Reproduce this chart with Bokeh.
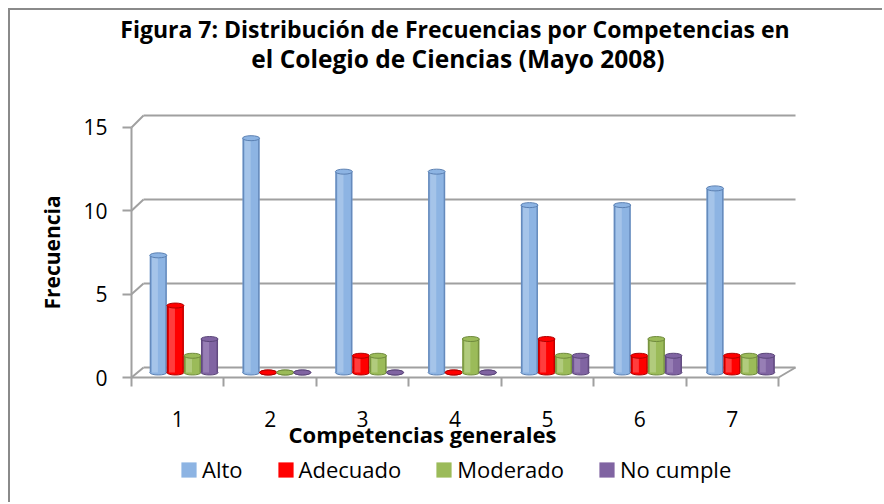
from bokeh.plotting import figure
from bokeh.models import Range1d, FixedTicker, Legend, LegendItem, Label, ColumnDataSource
from bokeh.embed import file_html
from bokeh.resources import INLINE

# ---------------- data ----------------
categories = ["1", "2", "3", "4", "5", "6", "7"]
series_names = ["Alto", "Adecuado", "Moderado", "No cumple"]
alto = [7, 14, 12, 12, 10, 10, 11]
adecuado = [4, 0, 1, 0, 2, 1, 1]
moderado = [1, 0, 1, 2, 1, 2, 1]
no_cumple = [2, 0, 0, 0, 1, 1, 1]
y_ticks = [0, 5, 10, 15]
title_line1 = "Figura 7: Distribución de Frecuencias por Competencias en"
title_line2 = "el Colegio de Ciencias (Mayo 2008)"
x_title = "Competencias generales"
y_title = "Frecuencia"

# ---------------- style ----------------
series_values = [alto, adecuado, moderado, no_cumple]
fill_colors = ["#8db4e3", "#ff0000", "#9bbb59", "#8064a2"]
dark_colors = ["#5b80b2", "#b00000", "#6f8a3c", "#5a4578"]
light_colors = ["#b9d1ef", "#ff7070", "#c3d99a", "#a994c4"]
GRID = "#a0a0a0"
FONT = "Open Sans"

W, H = 872, 492            # canvas size (page offset 10,10 after margin+border)
PX_X, PX_Y = 92.43, 16.67  # pixels per category / per unit of frequency
AX_LEFT, AX_BOTTOM = 121, 367  # canvas position of the front axes corner
TXT_DY = 10                # text labels baseline correction

n = len(categories)
x_lo, x_hi = 0.5, n + 0.5
bw = 0.184  # bar width in category units


def sx_to_x(sx):
    return x_lo + (sx - AX_LEFT) / PX_X


def sy_to_y(sy):
    return (AX_BOTTOM - sy) / PX_Y


def back_x(x):
    return x + 0.13 + (x - x_lo) / n * 0.054


def back_y(v):
    return v * 1.008 + 0.6


def mid_x(x):
    return x + (back_x(x) - x) / 2


def mid_y(v):
    return v * 1.004 + 0.3


p = figure(frame_width=W, frame_height=H, output_backend="svg", toolbar_location=None,
           x_range=Range1d(sx_to_x(0), sx_to_x(W)), y_range=Range1d(sy_to_y(H), sy_to_y(0)),
           min_border=0, title=None)
p.styles = {"border-left": "2px solid #8a8a8a", "border-top": "2px solid #8a8a8a",
            "margin-left": "8px", "margin-top": "8px"}
p.background_fill_color = "white"
p.border_fill_color = "white"
p.outline_line_color = None
p.xgrid.visible = False
p.ygrid.visible = False

# back wall, left wall and floor edges
gy = [back_y(v) for v in y_ticks]
p.segment(x0=[back_x(x_lo)] * len(y_ticks), y0=gy, x1=[back_x(x_hi)] * len(y_ticks), y1=gy,
          line_color=GRID, line_width=2)
p.segment(x0=[x_lo] * len(y_ticks), y0=y_ticks, x1=[back_x(x_lo)] * len(y_ticks), y1=gy,
          line_color=GRID, line_width=2)
p.segment(x0=[x_hi], y0=[0], x1=[back_x(x_hi)], y1=[back_y(0)], line_color=GRID, line_width=2)

# cylinders
legend_items = []
for s, (name, vals) in enumerate(zip(series_names, series_values)):
    off = (s - 1.5) * bw
    xs = [mid_x(i + 1 + off) for i in range(n)]
    tops = [mid_y(v) for v in vals]
    base = [mid_y(0)] * n
    src = ColumnDataSource(dict(x=xs, top=tops, base=base,
                                hx=[x - 0.2 * bw for x in xs],
                                lx=[x - bw / 2 + 0.008 for x in xs],
                                rx=[x + bw / 2 - 0.008 for x in xs]))
    p.ellipse(x="x", y="base", width=bw, height=5, height_units="screen", source=src,
              fill_color=fill_colors[s], line_color=dark_colors[s], line_width=1)
    p.vbar(x="x", bottom="base", top="top", width=bw, source=src,
           fill_color=fill_colors[s], line_color=None)
    p.vbar(x="hx", bottom="base", top="top", width=0.35 * bw, source=src,
           fill_color=light_colors[s], fill_alpha=0.55, line_color=None)
    p.vbar(x="lx", bottom="base", top="top", width=0.016, source=src,
           fill_color=dark_colors[s], fill_alpha=0.8, line_color=None)
    p.vbar(x="rx", bottom="base", top="top", width=0.016, source=src,
           fill_color=dark_colors[s], fill_alpha=0.8, line_color=None)
    p.ellipse(x="x", y="top", width=bw, height=5, height_units="screen", source=src,
              fill_color=fill_colors[s], line_color=dark_colors[s], line_width=1)
    # zero-area key glyph: only used to draw the square in the legend
    key = p.quad(left="x", right="x", top="base", bottom="base", source=src,
                 fill_color=fill_colors[s], line_color=None)
    legend_items.append(LegendItem(label=name, renderers=[key]))

# x axis (drawn at y = 0 inside the canvas)
xa = p.xaxis[0]
xa.fixed_location = 0
xa.ticker = FixedTicker(ticks=list(range(1, n + 1)), minor_ticks=[x_lo + i for i in range(n + 1)])
xa.major_label_overrides = {i + 1: c for i, c in enumerate(categories)}
xa.bounds = (x_lo, x_hi)
xa.major_tick_in = 0
xa.major_tick_out = 0
xa.minor_tick_in = 0
xa.minor_tick_out = 9
xa.minor_tick_line_color = GRID
xa.minor_tick_line_width = 2
xa.axis_line_color = GRID
xa.axis_line_width = 2
xa.major_label_standoff = 24
xa.major_label_text_font = FONT
xa.major_label_text_font_size = "21px"
xa.major_label_text_color = "black"

# y axis (drawn at x = 0.5)
ya = p.yaxis[0]
ya.fixed_location = x_lo
ya.ticker = FixedTicker(ticks=y_ticks, minor_ticks=[])
ya.bounds = (0, 15)
ya.major_tick_in = 0
ya.major_tick_out = 9
ya.major_tick_line_color = GRID
ya.major_tick_line_width = 2
ya.axis_line_color = GRID
ya.axis_line_width = 2
ya.major_label_standoff = 15
ya.major_label_text_font = FONT
ya.major_label_text_font_size = "21px"
ya.major_label_text_color = "black"
ya.axis_label = y_title
ya.axis_label_text_font = FONT
ya.axis_label_text_font_size = "21px"
ya.axis_label_text_font_style = "bold"
ya.axis_label_text_color = "black"
ya.axis_label_standoff = 14

# x axis title (placed as in the reference, left of the axis centre)
p.add_layout(Label(x=sx_to_x(412), y=sy_to_y(433 - TXT_DY), text=x_title, text_align="center",
                   text_baseline="alphabetic", text_font=FONT, text_font_size="22px",
                   text_font_style="bold", text_color="black"))

# titles
p.add_layout(Label(x=sx_to_x(444.5), y=sy_to_y(28 - TXT_DY), text=title_line1, text_align="center",
                   text_baseline="alphabetic", text_font=FONT, text_font_size="23px",
                   text_font_style="bold", text_color="black"))
p.add_layout(Label(x=sx_to_x(447.5), y=sy_to_y(58 - TXT_DY), text=title_line2, text_align="center",
                   text_baseline="alphabetic", text_font=FONT, text_font_size="24.5px",
                   text_font_style="bold", text_color="black"))

# legend (screen pixels from the canvas bottom-left)
legend = Legend(items=legend_items, orientation="horizontal", location=(169, 18),
                label_text_font=FONT, label_text_font_size="22px", label_text_color="black",
                glyph_width=19, glyph_height=19, label_standoff=4, spacing=33,
                padding=0, margin=0, border_line_color=None, background_fill_alpha=0)
p.add_layout(legend, "center")

open("out.html", "w").write(file_html(p, INLINE))
